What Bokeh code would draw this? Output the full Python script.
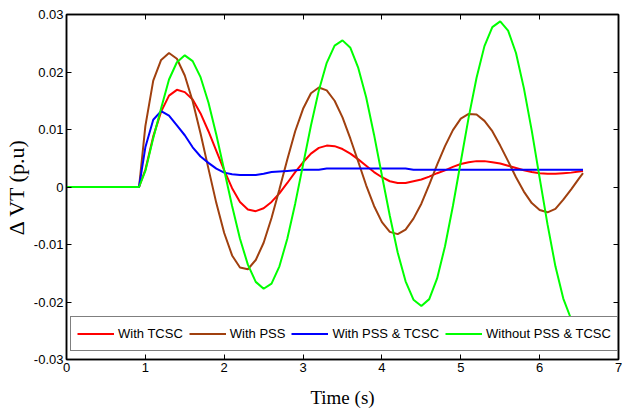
from bokeh.plotting import figure
from bokeh.models import Range1d, LinearAxis, FixedTicker
from bokeh.embed import file_html
from bokeh.resources import INLINE

# ---- data ----
time_s = [0, 0.92, 1.0, 1.1, 1.2, 1.3, 1.4, 1.5, 1.6, 1.7, 1.8, 1.9,
          2.0, 2.1, 2.2, 2.3, 2.4, 2.5, 2.6, 2.7, 2.8, 2.9,
          3.0, 3.1, 3.2, 3.3, 3.4, 3.5, 3.6, 3.7, 3.8, 3.9,
          4.0, 4.1, 4.2, 4.3, 4.4, 4.5, 4.6, 4.7, 4.8, 4.9,
          5.0, 5.1, 5.2, 5.3, 5.4, 5.5, 5.6, 5.7, 5.8, 5.9,
          6.0, 6.1, 6.2, 6.3, 6.4, 6.5, 6.55]

with_tcsc = [0, 0, 0.0030, 0.0088, 0.0131, 0.0159, 0.0169, 0.0165, 0.0152, 0.0128, 0.0097, 0.0063,
             0.0029, -0.0002, -0.0026, -0.0039, -0.0042, -0.0037, -0.0026, -0.0011, 0.0007, 0.0026,
             0.0043, 0.0058, 0.0068, 0.0072, 0.0071, 0.0066, 0.0058, 0.0048, 0.0037, 0.0026,
             0.0017, 0.0010, 0.0007, 0.0007, 0.0010, 0.0013, 0.0018, 0.0024, 0.0029, 0.0035,
             0.0040, 0.0043, 0.0045, 0.0045, 0.0043, 0.0041, 0.0037, 0.0033, 0.0029, 0.0026,
             0.0024, 0.0023, 0.0023, 0.0024, 0.0025, 0.0027, 0.0028]

with_pss = [0, 0, 0.0106, 0.0185, 0.0221, 0.0233, 0.0223, 0.0194, 0.0149, 0.0093, 0.0032, -0.0028,
            -0.0080, -0.0119, -0.0140, -0.0143, -0.0127, -0.0097, -0.0054, -0.0004, 0.0048, 0.0097,
            0.0136, 0.0163, 0.0173, 0.0168, 0.0150, 0.0121, 0.0084, 0.0044, 0.0003, -0.0033,
            -0.0061, -0.0078, -0.0082, -0.0074, -0.0055, -0.0029, 0.0004, 0.0039, 0.0071, 0.0099,
            0.0119, 0.0127, 0.0126, 0.0115, 0.0097, 0.0072, 0.0045, 0.0017, -0.0008, -0.0028,
            -0.0040, -0.0044, -0.0038, -0.0022, -0.0004, 0.0015, 0.0024]

with_pss_tcsc = [0, 0, 0.0069, 0.0117, 0.0132, 0.0124, 0.0107, 0.0090, 0.0069, 0.0053, 0.0042, 0.0032,
                 0.0025, 0.0022, 0.0021, 0.0021, 0.0021, 0.0023, 0.0026, 0.0027, 0.0028, 0.0029,
                 0.0030, 0.0030, 0.0030, 0.0032, 0.0032, 0.0032, 0.0032, 0.0032, 0.0032, 0.0032,
                 0.0032, 0.0032, 0.0032, 0.0032, 0.0030, 0.0030, 0.0030, 0.0030, 0.0030, 0.0030,
                 0.0030, 0.0030, 0.0030, 0.0030, 0.0030, 0.0030, 0.0030, 0.0030, 0.0030, 0.0030,
                 0.0030, 0.0030, 0.0030, 0.0030, 0.0030, 0.0030, 0.0030]

without_pss_tcsc = [0, 0, 0.0028, 0.0085, 0.0137, 0.0187, 0.0217, 0.0229, 0.0219, 0.0191, 0.0147, 0.0091,
                    0.0029, -0.0033, -0.0090, -0.0135, -0.0165, -0.0177, -0.0168, -0.0138, -0.0090, -0.0029,
                    0.0039, 0.0107, 0.0168, 0.0216, 0.0246, 0.0255, 0.0242, 0.0207, 0.0156, 0.0091,
                    0.0020, -0.0050, -0.0114, -0.0164, -0.0196, -0.0207, -0.0195, -0.0159, -0.0103, -0.0033,
                    0.0044, 0.0121, 0.0190, 0.0245, 0.0278, 0.0288, 0.0272, 0.0233, 0.0172, 0.0098,
                    0.0016, -0.0065, -0.0138, -0.0194, -0.0230, -0.0240, -0.0239]

series_labels = ["With TCSC", "With PSS", "With PSS & TCSC", "Without PSS & TCSC"]
series_colors = ["#FF0000", "#A0400F", "#0000FF", "#00FF00"]

x_ticks = [0, 1, 2, 3, 4, 5, 6, 7]
y_ticks = [-0.03, -0.02, -0.01, 0, 0.01, 0.02, 0.03]
y_tick_labels = ["-0.03", "-0.02", "-0.01", "0", "0.01", "0.02", "0.03"]

x_title = "Time (s)"
y_title = "\u0394 VT (p.u)"

# ---- figure ----
p = figure(width=622, height=412, output_backend="svg", toolbar_location=None,
           x_range=Range1d(0, 7), y_range=Range1d(-0.03, 0.03),
           min_border_left=66, min_border_right=4, min_border_top=14, min_border_bottom=53)

p.xgrid.visible = False
p.ygrid.visible = False
p.outline_line_color = "black"
p.outline_line_width = 1.5
p.background_fill_color = "white"
p.border_fill_color = "white"

tick_font = "Liberation Sans"

p.xaxis.ticker = FixedTicker(ticks=x_ticks)
p.yaxis.ticker = FixedTicker(ticks=y_ticks)
p.yaxis.major_label_overrides = {v: s for v, s in zip(y_ticks, y_tick_labels)}
p.xaxis.major_label_overrides = {v: str(v) for v in x_ticks}

for ax in (p.xaxis[0], p.yaxis[0]):
    ax.major_tick_in = 5
    ax.major_tick_out = 0
    ax.minor_tick_line_color = None
    ax.axis_line_color = "black"
    ax.axis_line_width = 1.5
    ax.major_tick_line_color = "black"
    ax.major_label_text_font = tick_font
    ax.major_label_text_font_size = "13px"
    ax.major_label_text_color = "black"
    ax.major_label_standoff = 3
    ax.axis_label_text_font = "Liberation Serif"
    ax.axis_label_text_font_style = "normal"
    ax.axis_label_text_color = "black"

p.xaxis.axis_label = x_title
p.xaxis.axis_label_text_font_size = "19px"
p.xaxis.axis_label_standoff = 12
p.yaxis.axis_label = y_title
p.yaxis.axis_label_text_font_size = "22px"
p.yaxis.axis_label_standoff = 2

# top and right axes with inward ticks only (box style)
top = LinearAxis(ticker=FixedTicker(ticks=x_ticks), major_tick_in=5, major_tick_out=0,
                 minor_tick_line_color=None, major_label_text_font_size="1px",
                 major_label_text_color=None, major_label_standoff=0, axis_line_width=1.5)
right = LinearAxis(ticker=FixedTicker(ticks=y_ticks), major_tick_in=5, major_tick_out=0,
                   minor_tick_line_color=None, major_label_text_font_size="1px",
                   major_label_text_color=None, major_label_standoff=0, axis_line_width=1.5)
p.add_layout(top, "above")
p.add_layout(right, "right")

series_values = [with_tcsc, with_pss, with_pss_tcsc, without_pss_tcsc]
for vals, lab, col in zip(series_values, series_labels, series_colors):
    p.line(time_s, vals, line_color=col, line_width=2, legend_label=lab)

lg = p.legend[0]
lg.orientation = "horizontal"
lg.location = (4, 8)
lg.glyph_width = 37
lg.glyph_height = 21
lg.label_standoff = 4
lg.spacing = 6
lg.padding = 6
lg.margin = 0
lg.border_line_color = "black"
lg.border_line_width = 1
lg.background_fill_color = "white"
lg.background_fill_alpha = 1.0
lg.label_text_font = tick_font
lg.label_text_font_size = "13px"
lg.label_text_color = "black"

open("out.html", "w").write(file_html(p, INLINE))
